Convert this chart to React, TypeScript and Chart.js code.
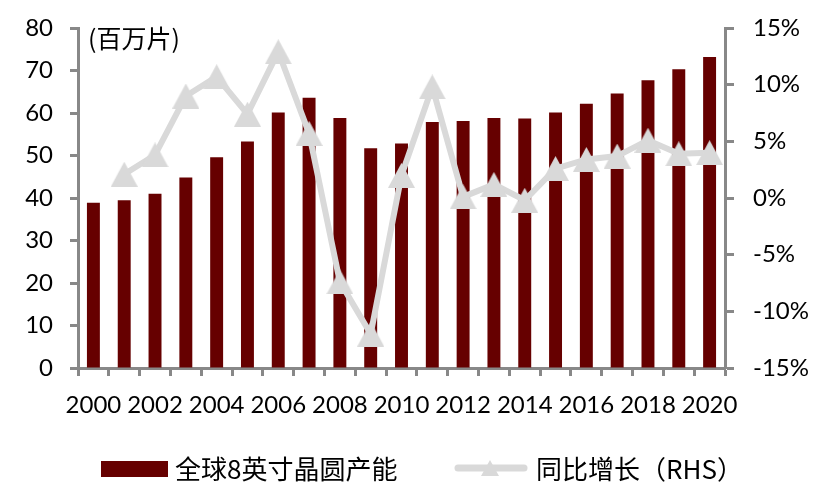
import React, { useEffect, useRef } from "react";
import { Chart, registerables } from "chart.js";

Chart.register(...registerables);

const years = ["2000","2001","2002","2003","2004","2005","2006","2007","2008","2009","2010","2011","2012","2013","2014","2015","2016","2017","2018","2019","2020"];
const capacity = [38.9, 39.5, 41.0, 44.8, 49.6, 53.3, 60.1, 63.6, 58.8, 51.7, 52.8, 57.9, 58.1, 58.8, 58.7, 60.1, 62.2, 64.6, 67.7, 70.3, 73.2];
const growth = [null, 2.1, 3.8, 9.0, 10.7, 7.4, 12.9, 5.7, -7.4, -12.0, 2.0, 9.8, 0.1, 1.2, -0.2, 2.6, 3.4, 3.7, 5.1, 3.9, 4.0];
const barLabel = "全球8英寸晶圆产能";
const lineLabel = "同比增长（RHS）";
const unitLabel = "(百万片)";

const BAR_COLOR = "#660000";
const LINE_COLOR = "#d9d9d9";
const AXIS_COLOR = "#888888";
const NUM_FONT = "Lato";
const CJK_FONT = "'Noto Sans CJK SC'";

function makeTriangle(w: number, h: number, color: string) {
  const c = document.createElement("canvas");
  c.width = w;
  c.height = h;
  const ctx = c.getContext("2d")!;
  ctx.fillStyle = color;
  ctx.beginPath();
  ctx.moveTo(w / 2, 0);
  ctx.lineTo(w, h);
  ctx.lineTo(0, h);
  ctx.closePath();
  ctx.fill();
  return c;
}

export default function App() {
  const ref = useRef<HTMLCanvasElement | null>(null);
  useEffect(() => {
    if (!ref.current) return;
    const tri = makeTriangle(27, 25, LINE_COLOR);
    const legendPlugin = {
      id: "customLegend",
      afterDraw(chart: any) {
        const ctx = chart.ctx;
        ctx.save();
        ctx.fillStyle = "#000";
        ctx.font = `25px ${CJK_FONT}`;
        ctx.textBaseline = "middle";
        ctx.textAlign = "left";
        ctx.fillText(unitLabel, 88, 38);
        ctx.fillStyle = BAR_COLOR;
        ctx.fillRect(101, 461, 67, 16);
        ctx.fillStyle = "#000";
        ctx.font = `26px ${CJK_FONT}`;
        ctx.fillText(barLabel, 175, 469);
        ctx.strokeStyle = LINE_COLOR;
        ctx.lineWidth = 7;
        ctx.lineCap = "round";
        ctx.beginPath();
        ctx.moveTo(458, 468);
        ctx.lineTo(524, 468);
        ctx.stroke();
        ctx.fillStyle = LINE_COLOR;
        ctx.beginPath();
        ctx.moveTo(490, 460);
        ctx.lineTo(499, 476);
        ctx.lineTo(481, 476);
        ctx.closePath();
        ctx.fill();
        ctx.fillStyle = "#000";
        ctx.fillText(lineLabel, 536, 469);
        ctx.restore();
      },
    };
    const vFit = (w: number) => (s: any) => {
      s.width = w;
      s.paddingTop = 0;
      s.paddingBottom = 0;
    };
    const chart = new Chart(ref.current, {
      type: "bar",
      data: {
        labels: years,
        datasets: [
          {
            type: "line",
            label: lineLabel,
            data: growth as any,
            yAxisID: "y1",
            borderColor: LINE_COLOR,
            backgroundColor: LINE_COLOR,
            borderWidth: 6,
            pointStyle: tri as any,
            pointRadius: 13,
            tension: 0,
            spanGaps: false,
            order: 0,
          },
          {
            type: "bar",
            label: barLabel,
            data: capacity,
            yAxisID: "y",
            backgroundColor: BAR_COLOR,
            borderWidth: 0,
            barPercentage: 0.42,
            categoryPercentage: 1,
            order: 1,
          },
        ],
      },
      options: {
        responsive: false,
        animation: false,
        layout: { padding: { top: 28, bottom: 72, left: 0, right: 0 } },
        plugins: { legend: { display: false }, tooltip: { enabled: false } },
        scales: {
          x: {
            offset: true,
            grid: {
              offset: true,
              drawOnChartArea: false,
              drawTicks: true,
              tickLength: 8,
              tickColor: AXIS_COLOR,
              tickWidth: 3,
            },
            border: { color: AXIS_COLOR, width: 3 },
            ticks: {
              autoSkip: false,
              maxRotation: 0,
              padding: 15,
              color: "#000",
              font: { family: NUM_FONT, size: 24 },
              callback: (_v: any, i: number) => (i % 2 === 0 ? years[i] : ""),
            },
            afterFit: (s: any) => {
              s.height = 60;
              s.paddingLeft = 0;
              s.paddingRight = 0;
            },
          },
          y: {
            position: "left",
            min: 0,
            max: 80,
            grid: {
              drawOnChartArea: false,
              tickLength: 8,
              tickColor: AXIS_COLOR,
              tickWidth: 3,
            },
            border: { color: AXIS_COLOR, width: 3 },
            ticks: {
              stepSize: 10,
              padding: 17,
              color: "#000",
              font: { family: NUM_FONT, size: 24 },
            },
            afterFit: vFit(78),
          },
          y1: {
            position: "right",
            min: -15,
            max: 15,
            grid: {
              drawOnChartArea: false,
              tickLength: 9,
              tickColor: AXIS_COLOR,
              tickWidth: 3,
            },
            border: { color: AXIS_COLOR, width: 3 },
            ticks: {
              stepSize: 5,
              padding: 19,
              color: "#000",
              font: { family: NUM_FONT, size: 24 },
              callback: (v: any) => `${v}%`,
            },
            afterFit: vFit(99),
          },
        },
      },
      plugins: [legendPlugin],
    });
    return () => chart.destroy();
  }, []);
  return (
    <div style={{ position: "fixed", left: 0, top: 0, width: 824, height: 500, background: "#fff" }}>
      <canvas ref={ref} width={824} height={500} style={{ width: 824, height: 500, display: "block" }} />
    </div>
  );
}
